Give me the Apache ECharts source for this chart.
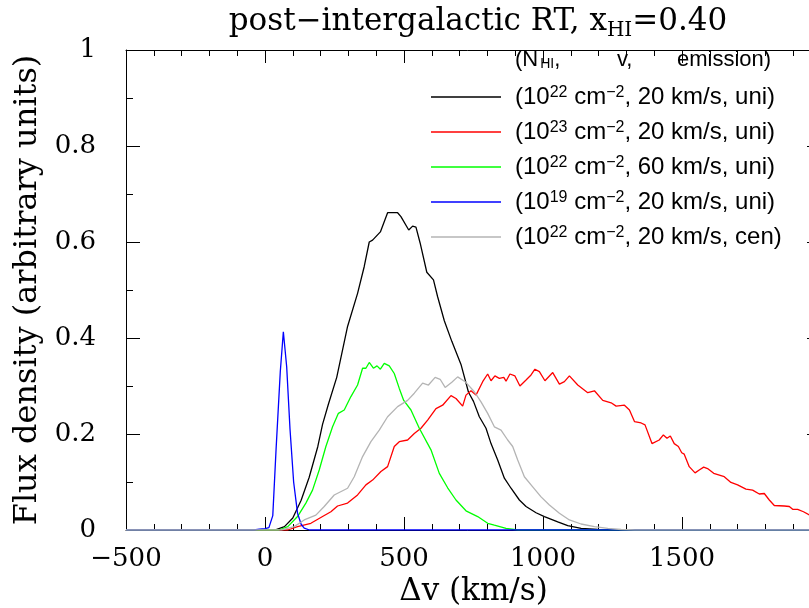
<!DOCTYPE html>
<html>
<head>
<meta charset="utf-8">
<script src="https://cdn.jsdelivr.net/npm/echarts@6/dist/echarts.min.js"></script>
<style>html,body{margin:0;padding:0;background:#fff;}#c{width:809px;height:608px;}</style>
</head>
<body>
<div id="c"></div>
<script>
// Δv (km/s) vs flux density
const blackData = [[-500,0],[30,0],[40,0.001],[70,0.007],[100,0.025],[130,0.062],[159,0.11],[190,0.174],[207,0.22],[228,0.262],[258,0.318],[297,0.424],[333,0.493],[357,0.549],[375,0.60],[387,0.604],[415,0.621],[441,0.661],[477,0.661],[489,0.653],[517,0.625],[531,0.633],[543,0.631],[558,0.598],[582,0.537],[606,0.521],[621,0.486],[645,0.436],[672,0.393],[705,0.345],[732,0.287],[750,0.268],[771,0.236],[795,0.212],[813,0.18],[837,0.146],[861,0.108],[885,0.087],[915,0.0625],[939,0.049],[975,0.036],[1005,0.028],[1053,0.017],[1089,0.009],[1137,0.0035],[1197,0.001],[1260,0],[2000,0]];
const redData = [[-500,0],[82,0],[117,0.007],[165,0.014],[207,0.028],[237,0.038],[261,0.05],[297,0.056],[333,0.073],[363,0.094],[387,0.104],[417,0.122],[441,0.132],[465,0.174],[483,0.184],[513,0.1875],[537,0.201],[561,0.212],[585,0.229],[615,0.253],[639,0.26],[669,0.28],[687,0.274],[711,0.258],[723,0.281],[741,0.29],[759,0.281],[783,0.309],[801,0.325],[813,0.311],[827,0.321],[843,0.316],[859,0.318],[867,0.31],[881,0.325],[899,0.321],[917,0.30],[939,0.3125],[957,0.323],[971,0.335],[987,0.33],[1007,0.311],[1035,0.328],[1059,0.304],[1077,0.309],[1095,0.321],[1125,0.302],[1161,0.286],[1185,0.29],[1215,0.27],[1245,0.265],[1263,0.258],[1293,0.26],[1311,0.25],[1329,0.226],[1353,0.223],[1367,0.219],[1392,0.18],[1418,0.1875],[1433,0.198],[1446,0.191],[1458,0.196],[1472,0.18],[1487,0.174],[1499,0.161],[1508,0.158],[1526,0.132],[1547,0.119],[1562,0.125],[1578,0.131],[1592,0.128],[1614,0.118],[1652,0.111],[1676,0.099],[1700,0.094],[1730,0.085],[1754,0.083],[1778,0.075],[1796,0.076],[1814,0.0625],[1832,0.051],[1868,0.05],[1886,0.049],[1898,0.043],[1916,0.043],[1937,0.038],[1960,0.031],[2000,0.026]];
const greenData = [[-500,0],[50,0],[82,0.007],[117,0.028],[147,0.056],[171,0.083],[195,0.125],[219,0.174],[243,0.215],[264,0.243],[285,0.25],[309,0.278],[333,0.302],[351,0.337],[363,0.337],[375,0.349],[390,0.337],[403,0.342],[415,0.335],[429,0.347],[447,0.342],[465,0.326],[483,0.295],[499,0.27],[525,0.25],[555,0.212],[597,0.167],[627,0.118],[657,0.088],[687,0.0625],[723,0.04],[765,0.028],[801,0.014],[825,0.01],[867,0.0035],[909,0],[2000,0]];
const blueData = [[-500,0],[-40,0],[-20,0.002],[0,0.003],[14,0.005],[28,0.03],[40,0.17],[55,0.33],[66,0.413],[78,0.34],[90,0.21],[103,0.10],[117,0.035],[130,0.012],[141,0.004],[160,0],[2000,0]];
const greyData = [[-500,0],[58,0],[105,0.007],[141,0.021],[183,0.031],[213,0.049],[249,0.073],[297,0.087],[321,0.111],[351,0.153],[381,0.184],[411,0.208],[441,0.236],[477,0.257],[513,0.27],[537,0.285],[567,0.306],[588,0.302],[612,0.318],[630,0.314],[648,0.297],[672,0.308],[693,0.319],[720,0.309],[753,0.288],[777,0.267],[801,0.243],[825,0.215],[849,0.208],[873,0.1875],[891,0.174],[909,0.146],[933,0.111],[963,0.09],[993,0.069],[1023,0.052],[1059,0.035],[1095,0.021],[1137,0.0125],[1185,0.007],[1233,0.0035],[1281,0.001],[1330,0],[2000,0]];

const seriesNames = ['(10^22 cm^-2, 20 km/s, uni)','(10^23 cm^-2, 20 km/s, uni)','(10^22 cm^-2, 60 km/s, uni)','(10^19 cm^-2, 20 km/s, uni)','(10^22 cm^-2, 20 km/s, cen)'];
const seriesColors = ['#000000','#ff0000','#00ff00','#0000ff','#b4b4b4'];
const xTicks = {min:-500, max:2000, interval:500};
const yTicks = {min:0, max:1, interval:0.2};

const serif = 'DejaVu Serif';
const sans = 'Liberation Sans';

function legendFmt(name){
  const m = name.match(/^\(10\^(\d+) cm\^-2, (.*)\)$/);
  return '(10{sup|' + m[1] + '} cm{sup|\u22122}, ' + m[2] + ')';
}

const chart = echarts.init(document.getElementById('c'), null, {renderer:'canvas'});
const dataSets = [blackData, redData, greenData, blueData, greyData];
const drawOrder = [0,1,2,4,3];

const axisCommon = {
  type:'value', min:xTicks.min, max:xTicks.max, interval:xTicks.interval,
  axisLine:{show:true, onZero:false, lineStyle:{color:'#000', width:1}},
  axisTick:{show:true, inside:true, length:13, lineStyle:{color:'#000', width:1}},
  minorTick:{show:true, splitNumber:5, length:6, lineStyle:{color:'#000', width:1}},
  splitLine:{show:false}
};
const yCommon = {
  type:'value', min:yTicks.min, max:yTicks.max, interval:yTicks.interval,
  axisLine:{show:true, onZero:false, lineStyle:{color:'#000', width:1}},
  axisTick:{show:true, inside:true, length:14, lineStyle:{color:'#000', width:1}},
  minorTick:{show:true, splitNumber:2, length:7, lineStyle:{color:'#000', width:1}},
  splitLine:{show:false}
};

const option = {
  animation:false,
  backgroundColor:'#fff',
  title:{
    text:'post\u2212intergalactic RT, x{sub|HI}=0.40',
    left:473, top:-2, textAlign:'center',
    textStyle:{fontFamily:serif, fontSize:31, fontWeight:'normal', color:'#000', lineHeight:38,
      rich:{sub:{fontFamily:serif, fontSize:20, color:'#000', verticalAlign:'bottom', lineHeight:38}}}
  },
  grid:{left:126, right:-12, top:50, bottom:78, outerBoundsMode:'none', containLabel:false},
  legend:{
    data:seriesNames, orient:'vertical', left:426, top:80,
    icon:'rect', itemWidth:70, itemHeight:1.3, itemGap:11,
    formatter:legendFmt,
    textStyle:{fontFamily:sans, fontSize:24, color:'#000', padding:[0,0,0,9],
      rich:{sup:{fontFamily:sans, fontSize:16, color:'#000', verticalAlign:'top'}}},
    selectedMode:false
  },
  graphic:[
    {type:'text', left:515, top:49, style:{text:'(N{sub|HI},', font:'22px "Liberation Sans"', fill:'#000',
      rich:{sub:{fontFamily:sans, fontSize:14, fill:'#000', verticalAlign:'bottom', padding:[0,0,0,2]}}}},
    {type:'text', left:617, top:49, style:{text:'v,', font:'22px "Liberation Sans"', fill:'#000'}},
    {type:'text', left:677, top:49, style:{text:'emission)', font:'22px "Liberation Sans"', fill:'#000'}}
  ],
  xAxis:[
    Object.assign({}, axisCommon, {position:'bottom',
      name:'\u0394v (km/s)', nameLocation:'middle', nameGap:45,
      nameTextStyle:{fontFamily:serif, fontSize:31, color:'#000'},
      axisLabel:{show:true, margin:16, fontFamily:serif, fontSize:26, color:'#000', showMaxLabel:false,
        formatter:function(v){return String(v).replace('-', '\u2212');}}}),
    Object.assign({}, axisCommon, {position:'top', axisLabel:{show:false}})
  ],
  yAxis:[
    Object.assign({}, yCommon, {position:'left',
      name:'Flux density (arbitrary units)', nameLocation:'middle', nameGap:80, nameRotate:90,
      nameTextStyle:{fontFamily:serif, fontSize:32, color:'#000'},
      axisLabel:{show:true, margin:30, fontFamily:serif, fontSize:26, color:'#000',
        formatter:function(v){return String(Math.round(v*10)/10);}}}),
    Object.assign({}, yCommon, {position:'right', axisLabel:{show:false}})
  ],
  series: drawOrder.map(function(i){
    return {
      type:'line', name:seriesNames[i], data:dataSets[i], xAxisIndex:0, yAxisIndex:0,
      showSymbol:false, symbol:'none', smooth:false,
      lineStyle:{color:seriesColors[i], width:1.3}, itemStyle:{color:seriesColors[i]},
      z:2+i
    };
  })
};
chart.setOption(option);
</script>
</body>
</html>
